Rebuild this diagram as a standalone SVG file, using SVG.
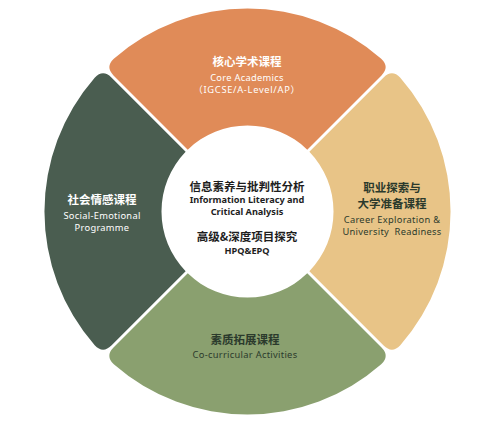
<svg xmlns="http://www.w3.org/2000/svg" width="500" height="427" viewBox="0 0 500 427">
<defs>
<style>
.seg{stroke:none}
.cn{font-family:"Noto Sans CJK SC","Noto Sans",sans-serif;font-weight:700;font-size:11.5px;text-anchor:middle}
.en{font-family:"Noto Sans","Noto Sans CJK SC",sans-serif;font-weight:400;font-size:9.3px;text-anchor:middle;letter-spacing:0.3px}
.enb{font-family:"Noto Sans","Noto Sans CJK SC",sans-serif;font-weight:700;font-size:9.2px;text-anchor:middle}
.w{fill:#ffffff}
.d{fill:#2b3a2c}
.c{fill:#1e1e1e}
</style>
<path id="segShape" d="M -59.75,-61.87 L -134.0,-136.12 Q -142.48,-144.6 -133.7,-152.8 A 203 203 0 0 1 133.7,-152.8 Q 142.48,-144.6 134.0,-136.12 L 59.75,-61.87 A 86 86 0 0 0 -59.75,-61.87 Z"/>
</defs>
<rect width="500" height="427" fill="#ffffff"/>
<g id="connectors"></g>
<g id="node-core" transform="translate(247.5,211.5)">
<use href="#segShape" fill="#e08b58"/>
</g>
<g id="node-career" transform="translate(247.5,211.5) rotate(90)">
<use href="#segShape" fill="#e8c487"/>
</g>
<g id="node-cocurricular" transform="translate(247.5,211.5) rotate(180)">
<use href="#segShape" fill="#8aa06f"/>
</g>
<g id="node-social" transform="translate(247.5,211.5) rotate(270)">
<use href="#segShape" fill="#4a5d50"/>
</g>
<g id="label-core">
<text class="cn w" x="247" y="66">核心学术课程</text>
<text class="en w" x="247" y="80.5">Core Academics</text>
<text class="en w" x="247" y="92.5" style="letter-spacing:0.7px">（IGCSE/A-Level/AP）</text>
</g>
<g id="label-social">
<text class="cn w" x="102" y="204">社会情感课程</text>
<text class="en w" x="102" y="218.5">Social-Emotional</text>
<text class="en w" x="102" y="231">Programme</text>
</g>
<g id="label-career">
<text class="cn d" x="392" y="192">职业探索与</text>
<text class="cn d" x="392" y="208">大学准备课程</text>
<text class="en d" x="392" y="222.5">Career Exploration &amp;</text>
<text class="en d" x="392" y="235" xml:space="preserve">University  Readiness</text>
</g>
<g id="label-cocurricular">
<text class="cn d" x="245" y="344">素质拓展课程</text>
<text class="en d" x="245" y="357.5">Co-curricular Activities</text>
</g>
<g id="node-center">
<text class="cn c" x="247" y="190.5">信息素养与批判性分析</text>
<text class="enb c" x="247" y="202.5">Information Literacy and</text>
<text class="enb c" x="247" y="214.5">Critical Analysis</text>
<text class="cn c" x="247" y="240.8">高级&amp;深度项目探究</text>
<text class="enb c" x="247" y="253.5">HPQ&amp;EPQ</text>
</g>
</svg>
